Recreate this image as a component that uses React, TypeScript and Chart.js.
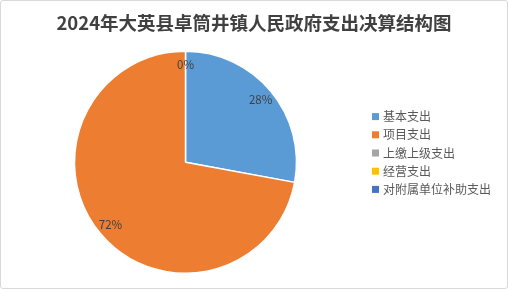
import React, { useEffect, useRef } from "react";
import { Chart, registerables } from "chart.js";

Chart.register(...registerables);

const TITLE = "2024年大英县卓筒井镇人民政府支出决算结构图";
const categories = ["基本支出", "项目支出", "上缴上级支出", "经营支出", "对附属单位补助支出"];
const values = [27.9, 72.1, 0, 0, 0];
const colors = ["#5B9BD5", "#ED7D31", "#A5A5A5", "#FFC000", "#4472C4"];

const FONT = "'Noto Sans CJK SC', 'Noto Sans', sans-serif";

const pctLabels = {
  id: "pctLabels",
  afterDatasetsDraw(chart: any) {
    const ctx = chart.ctx;
    const meta = chart.getDatasetMeta(0);
    const data = chart.data.datasets[0].data as number[];
    const total = data.reduce((a, b) => a + b, 0);
    ctx.save();
    ctx.font = `11.5px ${FONT}`;
    ctx.fillStyle = "#404040";
    ctx.textAlign = "center";
    ctx.textBaseline = "middle";
    const seen = new Set<string>();
    meta.data.forEach((arc: any, i: number) => {
      const p = arc.getProps(["x", "y", "startAngle", "endAngle", "outerRadius"], true);
      const mid = (p.startAngle + p.endAngle) / 2;
      const r = p.outerRadius * 0.88;
      const pct = Math.round((data[i] / total) * 100);
      const tx = p.x + Math.cos(mid) * r;
      const ty = p.y + Math.sin(mid) * r;
      const key = `${pct}|${Math.round(tx)}|${Math.round(ty)}`;
      if (seen.has(key)) return;
      seen.add(key);
      ctx.fillText(pct + "%", tx, ty);
    });
    ctx.restore();
  },
};

const titleAndLegend = {
  id: "titleAndLegend",
  afterDraw(chart: any) {
    const ctx = chart.ctx;
    ctx.save();
    // title
    ctx.font = `bold 18.5px ${FONT}`;
    ctx.fillStyle = "#404040";
    ctx.textAlign = "center";
    ctx.textBaseline = "middle";
    ctx.fillText(TITLE, chart.width / 2, 21.5);
    // legend
    const labels = chart.data.labels as string[];
    const bg = chart.data.datasets[0].backgroundColor as string[];
    const x0 = 371;
    const yc = 152;
    const step = 18.2;
    const y0 = yc - ((labels.length - 1) * step) / 2;
    ctx.font = `12px ${FONT}`;
    ctx.textAlign = "left";
    labels.forEach((lab, i) => {
      const y = y0 + i * step;
      ctx.fillStyle = bg[i];
      ctx.fillRect(x0, y - 3.5, 7, 7);
      ctx.fillStyle = "#595959";
      ctx.fillText(lab, x0 + 11, y);
    });
    ctx.restore();
  },
};

export default function App() {
  const ref = useRef<HTMLCanvasElement>(null);
  useEffect(() => {
    if (!ref.current) return;
    const chart = new Chart(ref.current, {
      type: "pie",
      data: {
        labels: categories,
        datasets: [
          {
            data: values,
            backgroundColor: colors,
            borderColor: "#ffffff",
            borderWidth: 1.5,
          },
        ],
      },
      options: {
        animation: false,
        responsive: false,
        maintainAspectRatio: false,
        layout: { padding: { left: 8, right: 145, top: 49.5, bottom: 14 } },
        plugins: {
          title: { display: false },
          legend: { display: false },
          tooltip: { enabled: false },
        },
      },
      plugins: [pctLabels, titleAndLegend],
    });
    return () => chart.destroy();
  }, []);
  return (
    <div
      style={{
        position: "fixed",
        left: 0,
        top: 0,
        width: 508,
        height: 289,
        boxSizing: "border-box",
        border: "1px solid #D9D9D9",
        borderRadius: 3,
        background: "#fff",
      }}
    >
      <canvas ref={ref} width={506} height={287} style={{ display: "block" }} />
    </div>
  );
}
